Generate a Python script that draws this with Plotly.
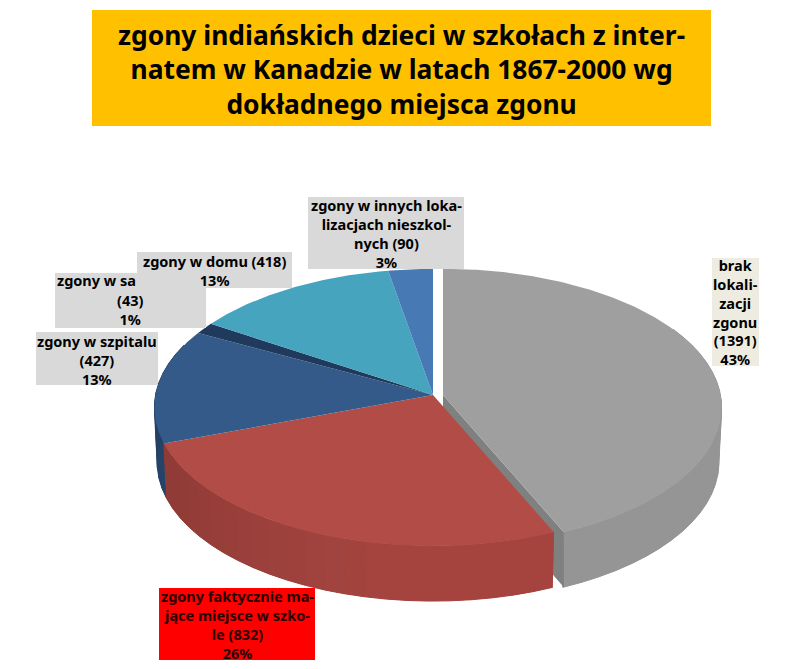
import numpy as np
import plotly.graph_objects as go

# ---- data ----
categories = ["brak lokalizacji zgonu", "zgony faktycznie mające miejsce w szkole",
              "zgony w szpitalu", "zgony w sa", "zgony w domu",
              "zgony w innych lokalizacjach nieszkolnych"]
values = [1391, 832, 427, 43, 418, 90]
top_colors = ["#9F9F9F", "#B24C47", "#345A89", "#1F3A5C", "#46A4BE", "#4779B4"]
wall_colors = ["#959595", "#A5443F", "#2C4F7C", "#1F3A5C", "#3A8CA3", "#3D689C"]
title_text = "zgony indiańskich dzieci w szkołach z inter-<br>natem w Kanadzie w latach 1867-2000 wg<br>dokładnego miejsca zgonu"

# ---- geometry of the drawing ----
CX, CY = 433.0, 395.0
A, B, P = 277.5, 137.5, 0.09
DEPTH, SHRINK = 55.0, 0.99
EXPLODE = [10.0, 0, 0, 0, 0, 0]
FONT = "Noto Sans"


def proj(t, cx=CX):
    r = np.radians(t)
    u, v = np.sin(r), -np.cos(r)
    s = 1 / (1 - P * v)
    return cx + A * u * s, CY + B * v * s


def low(x, y, cx):
    return cx + SHRINK * (x - cx), y + DEPTH


def shade(color, f):
    c = [int(color[i:i + 2], 16) for i in (1, 3, 5)]
    return "rgb(%d,%d,%d)" % tuple(min(255, round(k * f)) for k in c)


def poly(fig, xs, ys, color, edge=0):
    fig.add_trace(go.Scatter(x=list(xs), y=list(ys), mode="lines", fill="toself",
                             fillcolor=color, line=dict(width=edge, color=color),
                             hoverinfo="skip", showlegend=False))


def wall(fig, t0, t1, color, cx):
    # solid base first, so that the shaded bands leave no seams
    ts = np.linspace(t0, t1, 120)
    x, y = proj(ts, cx)
    lx, ly = low(x, y, cx)
    poly(fig, np.r_[x, lx[::-1]], np.r_[y, ly[::-1]], shade(color, 0.97))
    n = max(1, int((t1 - t0) / 4))
    edges = np.linspace(t0, t1, n + 1)
    for a, b in zip(edges[:-1], edges[1:]):
        ts = np.linspace(a, b, 4)
        x, y = proj(ts, cx)
        lx, ly = low(x, y, cx)
        mid = (a + b) / 2
        f = 1.0 if mid < 190 else 1.0 - 0.14 * (mid - 190) / 60
        poly(fig, np.r_[x, lx[::-1]], np.r_[y, ly[::-1]], shade(color, f), edge=1)


def top(fig, t0, t1, color, cx):
    ts = np.linspace(t0, t1, max(8, int(t1 - t0) * 2))
    x, y = proj(ts, cx)
    poly(fig, np.r_[cx, x], np.r_[CY, y], color)


fig = go.Figure()
shares = np.array(values, dtype=float) / sum(values) * 360
ends = np.cumsum(shares)
starts = ends - shares

g_cx = CX + EXPLODE[0]
cx_g, cy_g = proj(np.array([ends[0]]), g_cx)
wall(fig, 60, ends[0], wall_colors[0], g_cx)
poly(fig, [g_cx, cx_g[0], cx_g[0], g_cx], [CY, cy_g[0], cy_g[0] + DEPTH, CY + DEPTH], "#7F8181")
top(fig, starts[0], ends[0], top_colors[0], g_cx)

wall(fig, starts[2], 292, wall_colors[2], CX)
wall(fig, starts[1], ends[1], wall_colors[1], CX)

for i in range(1, len(values)):
    top(fig, starts[i], ends[i], top_colors[i], CX)

# label boxes
boxes = [
    (55, 273, 206, 328, "#D9D9D9"),
    (137, 252, 292, 288, "#D9D9D9"),
    (36, 332, 158, 385, "#D9D9D9"),
    (308, 197, 464, 269, "#D9D9D9"),
    (712, 258, 759, 366, "#EEECE1"),
    (159, 588, 315, 660, "#FF0000"),
]
shapes = [dict(type="rect", x0=92, y0=10, x1=711, y1=126, fillcolor="#FFC000",
               line=dict(width=0), layer="above")]
for x0, y0, x1, y1, c in boxes:
    shapes.append(dict(type="rect", x0=x0, y0=y0, x1=x1, y1=y1, fillcolor=c,
                       line=dict(width=0), layer="above"))

# centre x, centre y, text, colour
labels = [
    (96, 280, "zgony w sa", "#000000"),
    (130, 309.5, "(43)<br>1%", "#000000"),
    (214, 270, "zgony w domu (418)<br>13%", "#000000"),
    (97, 359.5, "zgony w szpitalu<br>(427)<br>13%", "#000000"),
    (386, 233, "zgony w innych loka-<br>lizacjach nieszkol-<br>nych (90)<br>3%", "#000000"),
    (735, 312, "brak<br>lokali-<br>zacji<br>zgonu<br>(1391)<br>43%", "#000000"),
    (237, 624, "zgony faktycznie ma-<br>jące miejsce w szko-<br>le (832)<br>26%", "#2A0000"),
]
ann = [dict(x=x, y=y, text=t, showarrow=False, xref="x", yref="y", align="center", borderpad=0,
            font=dict(family=FONT, size=14.5, color=c, weight="bold"))
       for x, y, t, c in labels]
ann.append(dict(x=401, y=69, text=title_text, showarrow=False, xref="x", yref="y", align="center",
                font=dict(family=FONT, size=26.4, color="#000000", weight="bold")))

fig.update_layout(
    width=805, height=669, autosize=False,
    margin=dict(l=0, r=0, t=0, b=0),
    paper_bgcolor="white", plot_bgcolor="white",
    xaxis=dict(range=[0, 805], visible=False, fixedrange=True),
    yaxis=dict(range=[669, 0], visible=False, fixedrange=True),
    shapes=shapes, annotations=ann, showlegend=False,
)
fig.write_html("out.html", config=dict(displayModeBar=False),
               post_script="document.body.style.margin='0';")
